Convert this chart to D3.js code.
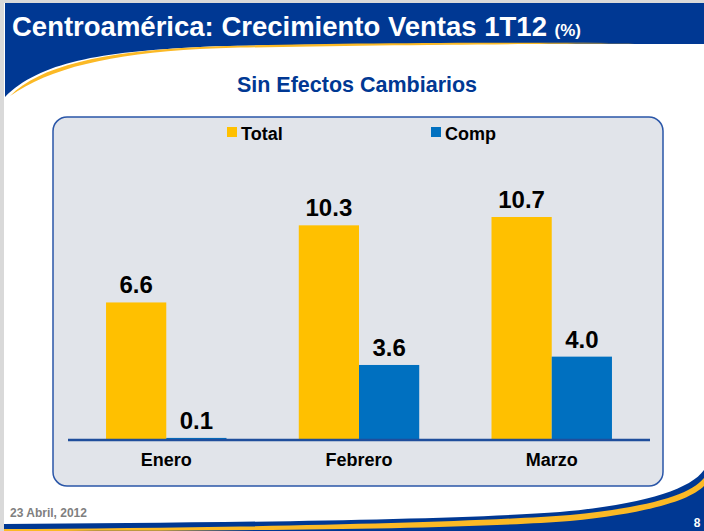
<!DOCTYPE html>
<html>
<head>
<meta charset="utf-8">
<title>Crecimiento Ventas</title>
<script src="https://d3js.org/d3.v7.min.js"></script>
<style>
  body { margin: 0; background: #fff; }
  svg { display: block; font-family: "Liberation Sans", Arial, sans-serif; }
</style>
</head>
<body>
<svg width="704" height="531"></svg>
<script>
const months = ["Enero", "Febrero", "Marzo"]
const seriesNames = ["Total", "Comp"]
const totalVals = [6.6, 10.3, 10.7]
const compVals = [0.1, 3.6, 4.0]
const colors = ["#ffc000", "#0070c0"]

const svg = d3.select("svg")
const width = +svg.attr("width")
const height = +svg.attr("height")
const navy = "#003893"

// page frame
svg.append("rect").attr("x", 0).attr("y", 0).attr("width", width).attr("height", height).attr("fill", "#d9d9d9")
svg.append("rect").attr("x", 4).attr("y", 3).attr("width", width - 4).attr("height", height - 3).attr("fill", "#fff")

// header band with swoosh
svg.append("path")
  .attr("d", "M5,3 L704,3 L704,44 C500,44 250,44 200,47 C100,52 40,62 5,97 Z")
  .attr("fill", navy)
svg.append("path")
  .attr("d", "M10,96 C40,66 100,52 200,47 C300,43 480,42 640,43 C560,44 300,45 200,49 C110,54 50,68 10,96 Z")
  .attr("fill", "#fbb925")
svg.append("path")
  .attr("d", "M12,98 C45,72 110,56 200,51 C300,46 480,45 704,45 L704,47 C480,47 300,48 200,53 C110,58 50,74 14,98 Z")
  .attr("fill", "#fff")

svg.append("text")
  .attr("x", 12).attr("y", 36)
  .attr("fill", "#fff")
  .attr("font-weight", "bold")
  .attr("font-size", 27.5)
  .text("Centroamérica: Crecimiento Ventas 1T12 ")
  .append("tspan")
  .attr("font-size", 17)
  .text("(%)")

svg.append("text")
  .attr("x", 357).attr("y", 92)
  .attr("text-anchor", "middle")
  .attr("fill", navy)
  .attr("font-weight", "bold")
  .attr("font-size", 21.5)
  .text("Sin Efectos Cambiarios")

// footer band with swoosh
svg.append("path")
  .attr("d", "M4,531 L4,524 C200,523 450,520 560,512 C640,505 690,490 704,470 L704,531 Z")
  .attr("fill", navy)
svg.append("path")
  .attr("d", "M4,531 L4,529 C200,528 450,524 570,515 C650,507 690,495 704,478 L704,486 C690,500 650,513 570,521 C450,530 200,531 4,531 Z")
  .attr("fill", "#fbb925")
svg.append("text")
  .attr("x", 10).attr("y", 517)
  .attr("fill", "#7f7f7f")
  .attr("font-weight", "bold")
  .attr("font-size", 12)
  .text("23 Abril, 2012")
svg.append("text")
  .attr("x", 697).attr("y", 527)
  .attr("text-anchor", "middle")
  .attr("fill", "#fff")
  .attr("font-weight", "bold")
  .attr("font-size", 12)
  .text("8")

// chart panel
svg.append("rect")
  .attr("x", 53).attr("y", 117)
  .attr("width", 610).attr("height", 369)
  .attr("rx", 14)
  .attr("fill", "#e1e4ea")
  .attr("stroke", "#2a56a8")
  .attr("stroke-width", 1.5)

const margin = { top: 217, left: 70, right: 56, bottom: 91 }
const innerWidth = width - margin.left - margin.right
const innerHeight = height - margin.top - margin.bottom
const g = svg.append("g").attr("transform", `translate(${margin.left},${margin.top})`)

const xScale = d3.scaleBand().domain(months).range([0, innerWidth]).paddingInner(0.375).paddingOuter(0.187)
const xSub = d3.scaleBand().domain(seriesNames).range([0, xScale.bandwidth()])
const yScale = d3.scaleLinear().domain([0, 10.7]).range([innerHeight, 0])

const rows = months.map((m, i) => ({ month: m, values: [totalVals[i], compVals[i]] }))

const groups = g.selectAll(".grp").data(rows).enter().append("g")
  .attr("transform", d => `translate(${xScale(d.month)},0)`)

groups.selectAll("rect").data(d => d.values.map((v, j) => ({ name: seriesNames[j], v: v, j: j })))
  .enter().append("rect")
  .attr("x", d => xSub(d.name))
  .attr("y", d => yScale(d.v))
  .attr("width", xSub.bandwidth())
  .attr("height", d => innerHeight - yScale(d.v))
  .attr("fill", d => colors[d.j])

groups.selectAll("text").data(d => d.values.map((v, j) => ({ name: seriesNames[j], v: v })))
  .enter().append("text")
  .attr("x", d => xSub(d.name) + xSub.bandwidth() / 2)
  .attr("y", d => yScale(d.v) - 9)
  .attr("text-anchor", "middle")
  .attr("font-weight", "bold")
  .attr("font-size", 24)
  .attr("fill", "#000")
  .text(d => d.v.toFixed(1))

// x axis
const xAxis = d3.axisBottom(xScale).tickSize(0).tickPadding(13)
const ax = g.append("g").attr("transform", `translate(0,${innerHeight})`).call(xAxis)
ax.select(".domain").attr("stroke", "#1f4e9c").attr("stroke-width", 2.5)
  .attr("d", `M-2,0H${innerWidth + 2}`)
ax.selectAll("text").attr("font-size", 18).attr("font-weight", "bold")
  .attr("fill", "#000").attr("font-family", "Liberation Sans, Arial, sans-serif")

// legend
const legendX = [227, 431]
seriesNames.forEach((name, i) => {
  svg.append("rect").attr("x", legendX[i]).attr("y", 127).attr("width", 10).attr("height", 10).attr("fill", colors[i])
  svg.append("text").attr("x", legendX[i] + 14).attr("y", 140)
    .attr("font-weight", "bold").attr("font-size", 18).attr("fill", "#000").text(name)
})
</script>
</body>
</html>
